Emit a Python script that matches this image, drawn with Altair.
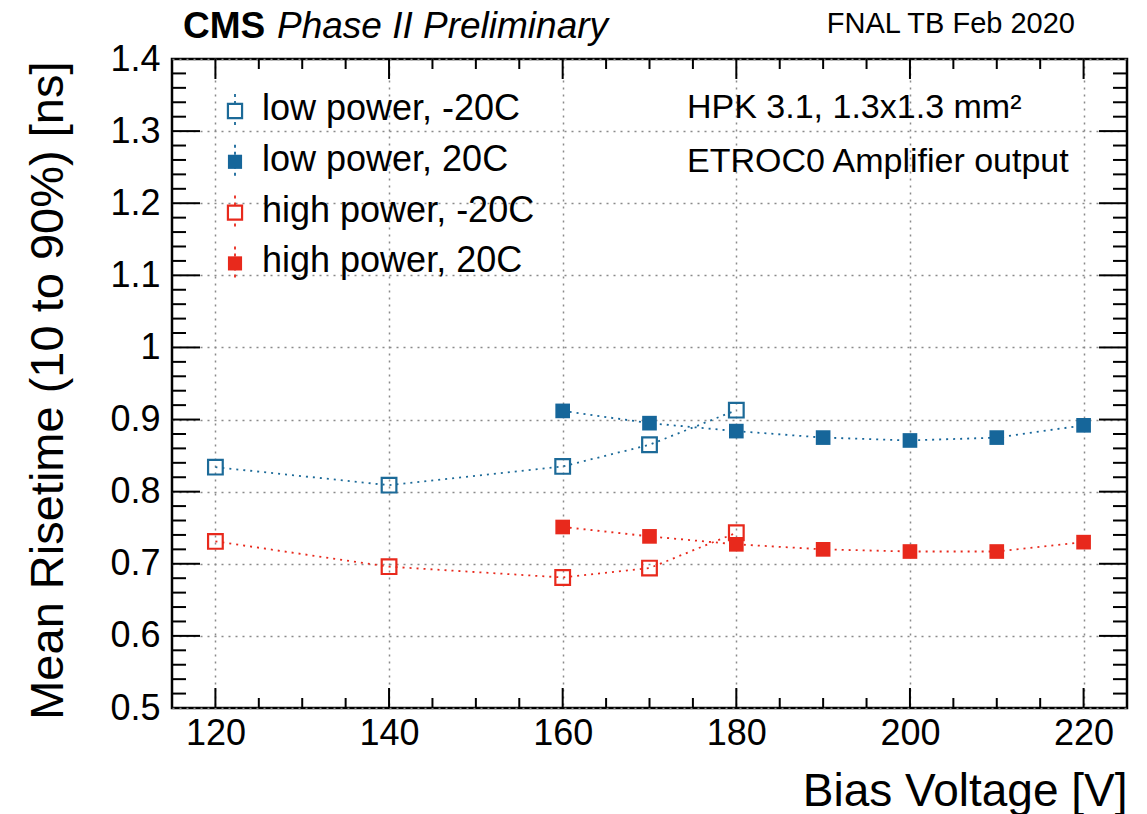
import altair as alt
import pandas as pd

# ---------------- data ----------------
volts_m20 = [120, 140, 160, 170, 180]
volts_20 = [160, 170, 180, 190, 200, 210, 220]
rise_low_m20 = [0.834, 0.809, 0.835, 0.865, 0.913]
rise_low_20 = [0.912, 0.895, 0.884, 0.875, 0.871, 0.875, 0.892]
rise_high_m20 = [0.731, 0.696, 0.681, 0.694, 0.743]
rise_high_20 = [0.751, 0.738, 0.727, 0.720, 0.717, 0.717, 0.730]

series_names = ["low power, -20C", "low power, 20C", "high power, -20C", "high power, 20C"]
series_colors = ["#1c6a98", "#16669a", "#e8291c", "#e8291c"]
series_filled = [False, True, False, True]

x_major = [120, 140, 160, 180, 200, 220]
y_major = [0.5, 0.6, 0.7, 0.8, 0.9, 1.0, 1.1, 1.2, 1.3, 1.4]
x_minor = [v for v in range(120, 225, 5) if v not in x_major]
y_minor = [round(0.5 + 0.02 * i, 2) for i in range(1, 45) if i % 5 != 0]

rows = []
for name, xs_, ys_ in zip(series_names,
                          [volts_m20, volts_20, volts_m20, volts_20],
                          [rise_low_m20, rise_low_20, rise_high_m20, rise_high_20]):
    for x, y in zip(xs_, ys_):
        rows.append({"series": name, "v": x, "r": y,
                     "filled": series_filled[series_names.index(name)]})
df = pd.DataFrame(rows)

W, H = 955, 649
FONT = "Liberation Sans"

xs = alt.Scale(domain=[115, 225], nice=False, zero=False)
ys = alt.Scale(domain=[0.5, 1.4], nice=False, zero=False)
cs = alt.Scale(domain=series_names, range=series_colors)

x_axis = alt.Axis(values=x_major, labelFontSize=36, labelFont=FONT, labelColor="black",
                  labelPadding=8, ticks=False, domain=False, grid=True,
                  gridDash=[2, 5], gridColor="#8a8a8a", gridWidth=1.5,
                  title="Bias Voltage [V]", titleFont=FONT, titleFontSize=46,
                  titleFontWeight="normal", titleColor="black", titleAlign="right",
                  titleX=W, titleY=97, titleBaseline="alphabetic")
y_axis = alt.Axis(values=y_major, labelFontSize=36, labelFont=FONT, labelColor="black",
                  labelPadding=12, ticks=False, domain=False, grid=True,
                  gridDash=[2, 5], gridColor="#8a8a8a", gridWidth=1.5,
                  labelExpr="datum.value == 1 ? '1' : format(datum.value, '.1f')",
                  title="Mean Risetime (10 to 90%) [ns]", titleFont=FONT, titleFontSize=47,
                  titleFontWeight="normal", titleColor="black", titleAngle=270,
                  titleAlign="right", titleBaseline="top", titleX=-147, titleY=2)

X = lambda f: alt.X(f, scale=xs, axis=x_axis)
Y = lambda f: alt.Y(f, scale=ys, axis=y_axis)

base = alt.Chart(df)

lines = base.mark_line(strokeDash=[2, 5], strokeWidth=1.8).encode(
    x=X("v:Q"), y=Y("r:Q"),
    color=alt.Color("series:N", scale=cs, legend=None),
    detail="series:N",
    order="v:Q",
)

open_pts = base.transform_filter("!datum.filled").mark_point(
    shape="square", size=215, filled=False, strokeWidth=2.2, opacity=1).encode(
    x=X("v:Q"), y=Y("r:Q"),
    color=alt.Color("series:N", scale=cs, legend=None),
)
filled_pts = base.transform_filter("datum.filled").mark_point(
    shape="square", size=215, filled=True, opacity=1).encode(
    x=X("v:Q"), y=Y("r:Q"),
    color=alt.Color("series:N", scale=cs, legend=None),
)

# inside ticks on all four sides
def xticks(vals, length, top):
    d = pd.DataFrame({"v": vals})
    if top:
        y1, y2 = 0, length
    else:
        y1, y2 = H - length, H
    return alt.Chart(d).mark_rule(color="black", strokeWidth=2).encode(
        x=X("v:Q"), y=alt.value(y1), y2=alt.value(y2))

def yticks(vals, length, right):
    d = pd.DataFrame({"r": vals})
    if right:
        x1, x2 = W - length, W
    else:
        x1, x2 = 0, length
    return alt.Chart(d).mark_rule(color="black", strokeWidth=2).encode(
        y=Y("r:Q"), x=alt.value(x1), x2=alt.value(x2))

tick_layers = [
    xticks(x_major, 20, False), xticks(x_minor, 10, False),
    xticks(x_major, 20, True), xticks(x_minor, 10, True),
    yticks(y_major[1:-1], 28, False), yticks(y_minor, 14, False),
    yticks(y_major[1:-1], 28, True), yticks(y_minor, 14, True),
]

one = pd.DataFrame({"a": [0]})

def txt(s, x, y, size, align="left", weight="normal", style="normal"):
    return alt.Chart(one).mark_text(
        text=s, font=FONT, fontSize=size, align=align, baseline="alphabetic",
        fontWeight=weight, fontStyle=style, color="black").encode(
        x=alt.value(x), y=alt.value(y))

texts = [
    txt("CMS", 11, -21, 37, weight="bold"),
    txt("Phase II Preliminary", 105, -21, 37, style="italic"),
    txt("FNAL TB Feb 2020", 903, -26, 29, align="right"),
    txt("HPK 3.1, 1.3x1.3 mm²", 515, 59, 34),
    txt("ETROC0 Amplifier output", 515, 113, 34),
]

# legend (drawn inside the frame)
legend_layers = []
for i, (name, col, fil) in enumerate(zip(series_names, series_colors, series_filled)):
    cy = 52 + i * 50.8
    legend_layers.append(alt.Chart(one).mark_rule(color=col, strokeWidth=1.8, strokeDash=[3, 4]).encode(
        x=alt.value(63), y=alt.value(cy - 17), y2=alt.value(cy + 17)))
    legend_layers.append(alt.Chart(one).mark_point(
        shape="square", size=200, filled=fil,
        fill=col if fil else "white", strokeWidth=2.2, color=col, opacity=1).encode(
        x=alt.value(63), y=alt.value(cy)))
    legend_layers.append(txt(name, 90, cy + 9, 36))

chart = alt.layer(lines, *tick_layers, open_pts, filled_pts, *legend_layers, *texts).properties(
    width=W, height=H,
    autosize=alt.AutoSizeParams(type="none"),
    padding={"left": 172, "top": 59, "right": 20, "bottom": 106},
    background="white",
).configure_view(stroke="black", strokeWidth=2.5)

chart.save("out.html", embed_options={"renderer": "svg", "actions": False})
